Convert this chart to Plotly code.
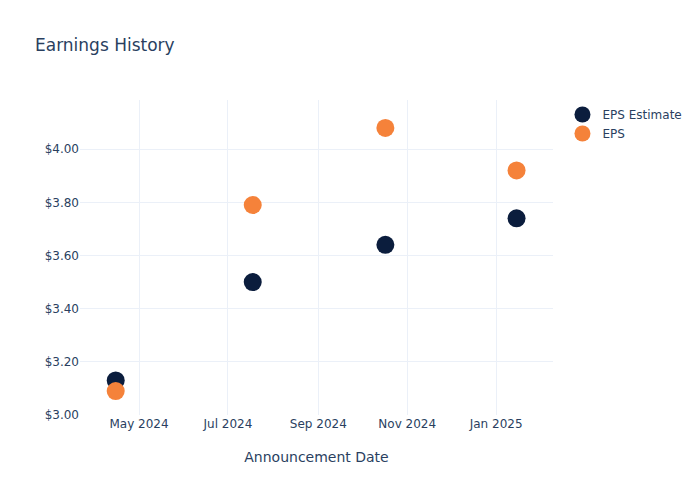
import plotly.graph_objects as go

# 数据
dates = ["2024-04-15", "2024-07-18", "2024-10-17", "2025-01-15"]
eps_estimate = [3.13, 3.50, 3.64, 3.74]
eps_actual = [3.09, 3.79, 4.08, 3.92]

fig = go.Figure()

fig.add_trace(go.Scatter(
    x=dates, y=eps_estimate, mode="markers", name="EPS Estimate",
    marker=dict(size=18, color="#0b1d3d"),
))
fig.add_trace(go.Scatter(
    x=dates, y=eps_actual, mode="markers", name="EPS",
    marker=dict(size=18, color="#f5823a"),
))

fig.update_layout(
    template="plotly_white",
    width=700,
    height=500,
    title=dict(text="Earnings History", x=0.05, y=0.922,
               font=dict(size=17, color="#2a3f5f")),
    font=dict(family="DejaVu Sans, Open Sans, sans-serif", size=12, color="#2a3f5f"),
    margin=dict(l=80, r=147, t=100, b=85),
    legend=dict(x=1.02, y=1.0, xanchor="left", yanchor="top",
                font=dict(size=12)),
    xaxis=dict(title=dict(text="Announcement Date", font=dict(size=14), standoff=22),
               range=["2024-03-21 12:00", "2025-02-09"],
               dtick="M2", tickformat="%b %Y", zeroline=False),
    yaxis=dict(range=[3.0, 4.185], tickformat="$.2f", dtick=0.2,
               zeroline=False),
)

# 去掉页面默认边距
fig.write_html("out.html", config={"displayModeBar": False},
               post_script="document.body.style.margin='0';")
